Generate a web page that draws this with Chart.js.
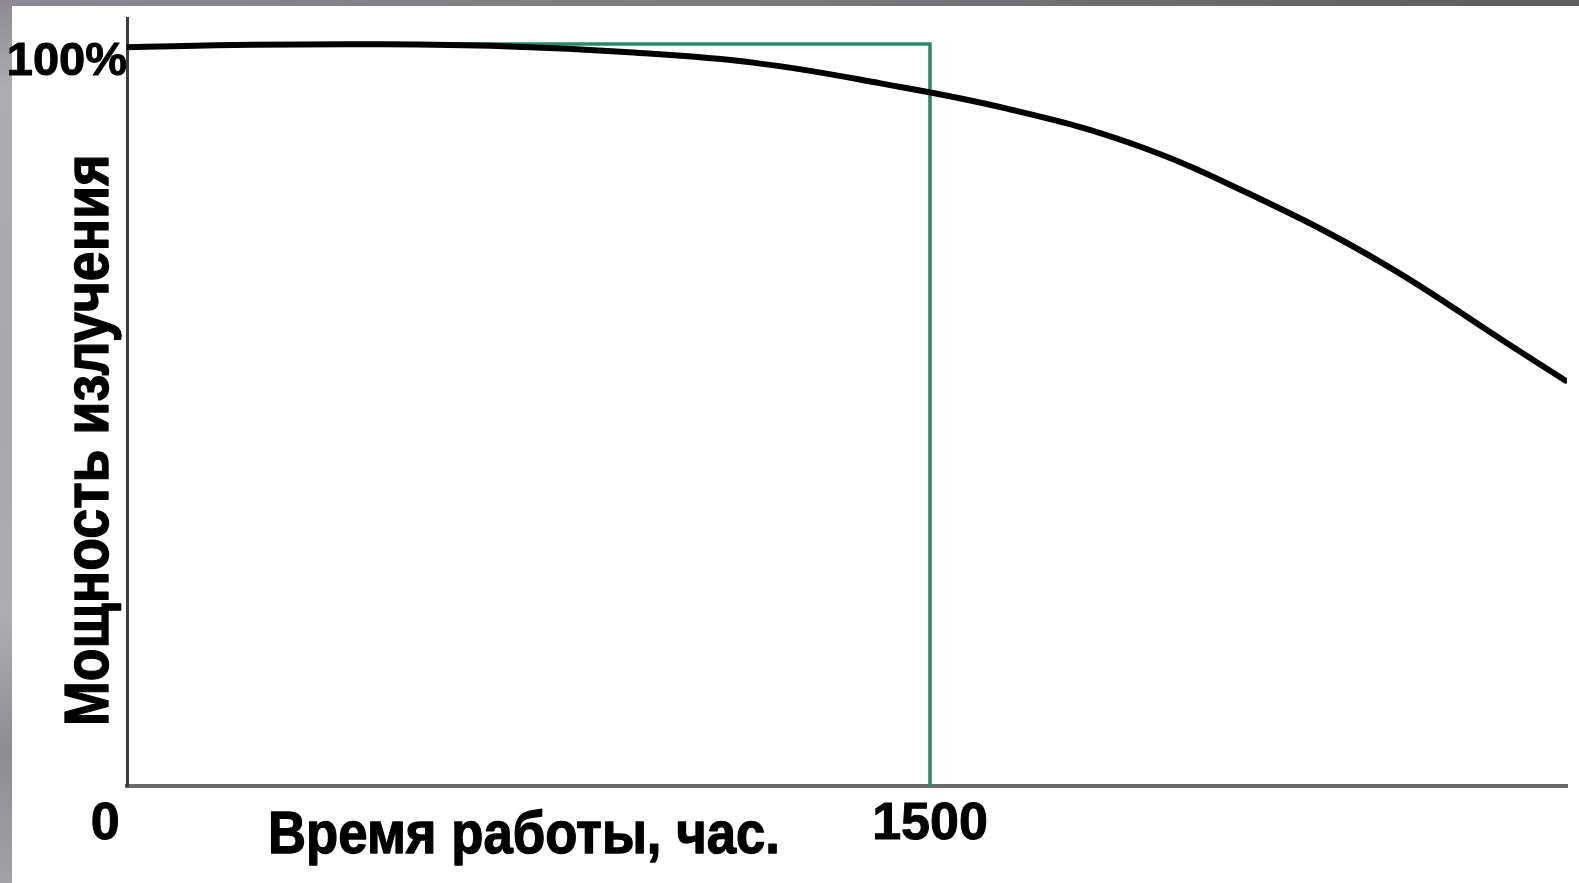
<!DOCTYPE html>
<html>
<head>
<meta charset="utf-8">
<script src="https://cdn.jsdelivr.net/npm/chart.js@4.4.1/dist/chart.umd.min.js"></script>
<style>
  html, body { margin:0; padding:0; background:#fff; }
  body { width:1579px; height:883px; overflow:hidden; position:relative; }
  #topBand { position:absolute; left:0; top:0; width:1579px; height:6px;
    background:linear-gradient(to right, #8d8992, #7b777e 50%, #5d5a60); }
  #leftBand { position:absolute; left:0; top:0; width:12px; height:883px;
    background:linear-gradient(to bottom, #8d8992 0%, #aeabb2 10%, #a9a6ad 45%, #aeabb2 70%, #8f8b93 85%, #a3a0a7 100%); }
  #wrap { position:absolute; left:0; top:0; width:1579px; height:883px; }
</style>
</head>
<body>
<div id="topBand"></div>
<div id="leftBand"></div>
<div id="wrap"><canvas id="chart" width="1579" height="883"></canvas></div>
<script>
// кривая мощности излучения (часы / % от начальной)
const hours = [0, 233, 468, 703, 938, 1173, 1408, 1644, 1879, 2114, 2349, 2584, 2687];
const power = [99.55, 99.89, 99.96, 99.69, 98.87, 97.45, 94.69, 91.28, 86.52, 79.2, 70.3, 59.39, 54.64];

// зелёная рамка ресурса 1500 ч
const limitHours = [613, 1500, 1500];
const limitPower = [100, 100, 0];

const xTicks = [0, 1500];
const yTicks = [100];
const xMax = 2690;
const yMax = 103.5;

const xTitle = 'Время работы, час.';
const yTitle = 'Мощность излучения';

const toPoints = (xs, ys)=> xs.map((x,i)=> ({ x, y: ys[i] }));

// подписи осей рисуем сами — на слайде они чуть вытянуты по высоте
function drawStretched(ctx, text, font, inkWidth, capH){
  ctx.font = font;
  ctx.textAlign = 'left';
  ctx.textBaseline = 'alphabetic';
  const m = ctx.measureText(text);
  const cap = ctx.measureText(text[0]).actualBoundingBoxAscent;
  const w = m.actualBoundingBoxLeft + m.actualBoundingBoxRight;
  ctx.scale(inkWidth / w, capH / cap);
  ctx.lineWidth = 1.2;
  ctx.lineJoin = 'round';
  ctx.strokeStyle = '#000';
  ctx.fillText(text, m.actualBoundingBoxLeft, 0);
  ctx.strokeText(text, m.actualBoundingBoxLeft, 0);
}

const axisTitles = {
  id: 'axisTitles',
  afterDraw(chart){
    const ctx = chart.ctx;
    const font = 'bold 54px "Liberation Sans", Arial, sans-serif';
    ctx.save();
    ctx.fillStyle = '#000';
    ctx.translate(108, 723);
    ctx.rotate(-Math.PI/2);
    drawStretched(ctx, yTitle, font, 565, 43);
    ctx.restore();

    ctx.save();
    ctx.fillStyle = '#000';
    ctx.translate(271, 853);
    drawStretched(ctx, xTitle, font, 506, 40.5);
    ctx.restore();
  }
};

const tickFont = { family: '"Liberation Sans", Arial, sans-serif', weight: 'bold' };

new Chart(document.getElementById('chart'), {
  type: 'line',
  data: {
    datasets: [
      {
        label: 'Мощность',
        data: toPoints(hours, power),
        borderColor: '#000',
        borderWidth: 6,
        borderCapStyle: 'round',
        tension: 0.4,
        pointRadius: 0,
        fill: false
      },
      {
        label: '1500 ч',
        data: toPoints(limitHours, limitPower),
        borderColor: '#2a8a67',
        borderWidth: 3.5,
        tension: 0,
        pointRadius: 0,
        fill: false
      }
    ]
  },
  options: {
    responsive: false,
    animation: false,
    events: [],
    layout: { padding: { top: 18, right: 12, left: 0, bottom: 0 } },
    plugins: { legend: { display: false }, tooltip: { enabled: false } },
    scales: {
      x: {
        type: 'linear',
        min: 0, max: xMax,
        afterBuildTicks: (s)=> { s.ticks = xTicks.map(v=>({ value: v })); },
        afterFit: (s)=> { s.height = 97; s.paddingLeft = 0; s.paddingRight = 0; },
        grid: { display: false, drawTicks: false },
        border: { display: true, color: '#6b6b6b', width: 4 },
        ticks: {
          padding: 7,
          maxRotation: 0,
          autoSkip: false,
          color: '#000',
          textStrokeColor: '#000',
          textStrokeWidth: 1,
          font: { ...tickFont, size: 52 },
          callback: (v)=> v === 0 ? '0   ' : String(v)
        }
      },
      y: {
        type: 'linear',
        min: 0, max: yMax,
        afterBuildTicks: (s)=> { s.ticks = yTicks.map(v=>({ value: v })); },
        afterFit: (s)=> { s.width = 127; s.paddingTop = 0; s.paddingBottom = 0; },
        grid: { display: false, drawTicks: false },
        border: { display: true, color: '#3c3c3c', width: 3 },
        ticks: {
          padding: 0,
          labelOffset: 18,
          color: '#000',
          textStrokeColor: '#000',
          textStrokeWidth: 1,
          font: { ...tickFont, size: 47 },
          callback: (v)=> v + '%'
        }
      }
    }
  },
  plugins: [axisTitles]
});
</script>
</body>
</html>
